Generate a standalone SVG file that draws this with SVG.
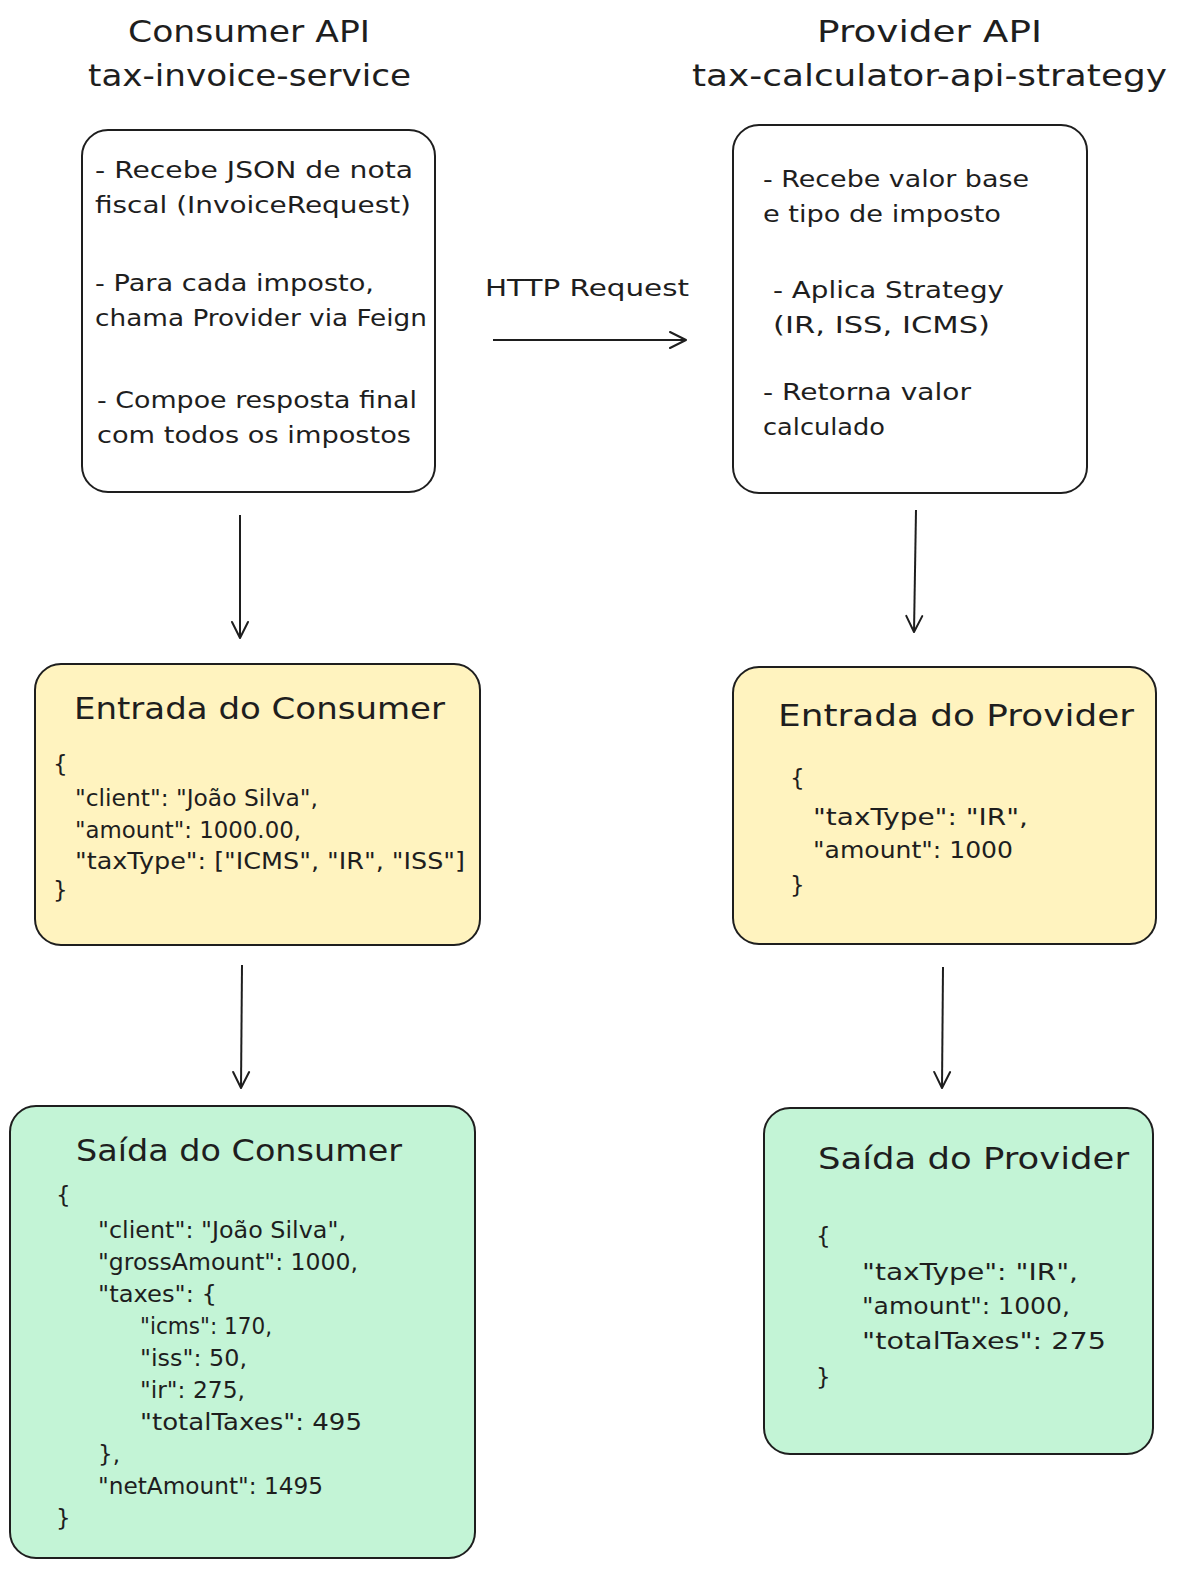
<svg xmlns="http://www.w3.org/2000/svg" width="1180" height="1570" viewBox="0 0 1180 1570">
<style>
  text { font-family: "DejaVu Sans", "Liberation Sans", sans-serif; fill: #1e1e1e; }
  .h { font-size: 30px; }
  .t { font-size: 31px; }
  .b { font-size: 23px; }
  .box { stroke: #1e1e1e; stroke-width: 2; }
  .white { fill: #ffffff; }
  .yellow { fill: #fff3bf; }
  .green { fill: #c3f4d6; }
  .conn { stroke: #1e1e1e; stroke-width: 2; fill: none; marker-end: url(#arr); }
</style>
<defs>
  <marker id="arr" viewBox="0 0 20 20" refX="18" refY="10" markerWidth="20" markerHeight="20" markerUnits="userSpaceOnUse" orient="auto">
    <path d="M2,2 L18,10 L2,18" fill="none" stroke="#1e1e1e" stroke-width="2" stroke-linecap="round" stroke-linejoin="round"/>
  </marker>
</defs>
<rect width="1180" height="1570" fill="#ffffff"/>

<g id="title-consumer">
  <text class="h" x="128" y="42" textLength="242" lengthAdjust="spacingAndGlyphs">Consumer API</text>
  <text class="h" x="88" y="86" textLength="323" lengthAdjust="spacingAndGlyphs">tax-invoice-service</text>
</g>
<g id="title-provider">
  <text class="h" x="817" y="42" textLength="225" lengthAdjust="spacingAndGlyphs">Provider API</text>
  <text class="h" x="692" y="86" textLength="475" lengthAdjust="spacingAndGlyphs">tax-calculator-api-strategy</text>
</g>

<g id="consumer-box">
  <rect class="box white" x="82" y="130" width="353" height="362" rx="26"/>
  <text class="b" x="95" y="178" textLength="318" lengthAdjust="spacingAndGlyphs">- Recebe JSON de nota</text>
  <text class="b" x="95" y="213" textLength="316" lengthAdjust="spacingAndGlyphs">fiscal (InvoiceRequest)</text>
  <text class="b" x="95" y="291" textLength="279" lengthAdjust="spacingAndGlyphs">- Para cada imposto,</text>
  <text class="b" x="95" y="326" textLength="332" lengthAdjust="spacingAndGlyphs">chama Provider via Feign</text>
  <text class="b" x="97" y="408" textLength="320" lengthAdjust="spacingAndGlyphs">- Compoe resposta final</text>
  <text class="b" x="97" y="443" textLength="314" lengthAdjust="spacingAndGlyphs">com todos os impostos</text>
</g>

<g id="provider-box">
  <rect class="box white" x="733" y="125" width="354" height="368" rx="26"/>
  <text class="b" x="763" y="187" textLength="266" lengthAdjust="spacingAndGlyphs">- Recebe valor base</text>
  <text class="b" x="763" y="222" textLength="238" lengthAdjust="spacingAndGlyphs">e tipo de imposto</text>
  <text class="b" x="773" y="298" textLength="231" lengthAdjust="spacingAndGlyphs">- Aplica Strategy</text>
  <text class="b" x="773" y="333" textLength="217" lengthAdjust="spacingAndGlyphs">(IR, ISS, ICMS)</text>
  <text class="b" x="763" y="400" textLength="208" lengthAdjust="spacingAndGlyphs">- Retorna valor</text>
  <text class="b" x="763" y="435" textLength="122" lengthAdjust="spacingAndGlyphs">calculado</text>
</g>

<g id="http-label">
  <text class="b" x="485" y="296" textLength="204" lengthAdjust="spacingAndGlyphs">HTTP Request</text>
</g>

<g id="consumer-input">
  <rect class="box yellow" x="35" y="664" width="445" height="281" rx="26"/>
  <text class="t" x="74" y="719" textLength="371" lengthAdjust="spacingAndGlyphs">Entrada do Consumer</text>
  <text class="b" x="53" y="772">{</text>
  <text class="b" x="75" y="806" textLength="243" lengthAdjust="spacingAndGlyphs">"client": "João Silva",</text>
  <text class="b" x="75" y="838" textLength="226" lengthAdjust="spacingAndGlyphs">"amount": 1000.00,</text>
  <text class="b" x="75" y="869" textLength="390" lengthAdjust="spacingAndGlyphs">"taxType": ["ICMS", "IR", "ISS"]</text>
  <text class="b" x="53" y="898">}</text>
</g>

<g id="provider-input">
  <rect class="box yellow" x="733" y="667" width="423" height="277" rx="26"/>
  <text class="t" x="778" y="726" textLength="356" lengthAdjust="spacingAndGlyphs">Entrada do Provider</text>
  <text class="b" x="790" y="786">{</text>
  <text class="b" x="813" y="825" textLength="215" lengthAdjust="spacingAndGlyphs">"taxType": "IR",</text>
  <text class="b" x="813" y="858" textLength="200" lengthAdjust="spacingAndGlyphs">"amount": 1000</text>
  <text class="b" x="790" y="893">}</text>
</g>

<g id="consumer-output">
  <rect class="box green" x="10" y="1106" width="465" height="452" rx="26"/>
  <text class="t" x="76" y="1161" textLength="326" lengthAdjust="spacingAndGlyphs">Saída do Consumer</text>
  <text class="b" x="56" y="1203">{</text>
  <text class="b" x="98" y="1238" textLength="248" lengthAdjust="spacingAndGlyphs">"client": "João Silva",</text>
  <text class="b" x="98" y="1270" textLength="260" lengthAdjust="spacingAndGlyphs">"grossAmount": 1000,</text>
  <text class="b" x="98" y="1302" textLength="119" lengthAdjust="spacingAndGlyphs">"taxes": {</text>
  <text class="b" x="140" y="1334" textLength="132" lengthAdjust="spacingAndGlyphs">"icms": 170,</text>
  <text class="b" x="140" y="1366" textLength="107" lengthAdjust="spacingAndGlyphs">"iss": 50,</text>
  <text class="b" x="140" y="1398" textLength="105" lengthAdjust="spacingAndGlyphs">"ir": 275,</text>
  <text class="b" x="140" y="1430" textLength="222" lengthAdjust="spacingAndGlyphs">"totalTaxes": 495</text>
  <text class="b" x="98" y="1462">},</text>
  <text class="b" x="98" y="1494" textLength="225" lengthAdjust="spacingAndGlyphs">"netAmount": 1495</text>
  <text class="b" x="56" y="1526">}</text>
</g>

<g id="provider-output">
  <rect class="box green" x="764" y="1108" width="389" height="346" rx="26"/>
  <text class="t" x="818" y="1169" textLength="311" lengthAdjust="spacingAndGlyphs">Saída do Provider</text>
  <text class="b" x="816" y="1244">{</text>
  <text class="b" x="862" y="1280" textLength="216" lengthAdjust="spacingAndGlyphs">"taxType": "IR",</text>
  <text class="b" x="862" y="1314" textLength="208" lengthAdjust="spacingAndGlyphs">"amount": 1000,</text>
  <text class="b" x="862" y="1349" textLength="244" lengthAdjust="spacingAndGlyphs">"totalTaxes": 275</text>
  <text class="b" x="816" y="1385">}</text>
</g>

<g id="connectors">
  <path class="conn" d="M493,340 L686,340"/>
  <path class="conn" d="M240,515 L240,638"/>
  <path class="conn" d="M916,510 L914,632"/>
  <path class="conn" d="M242,965 L241,1088"/>
  <path class="conn" d="M943,967 L942,1088"/>
</g>
</svg>
